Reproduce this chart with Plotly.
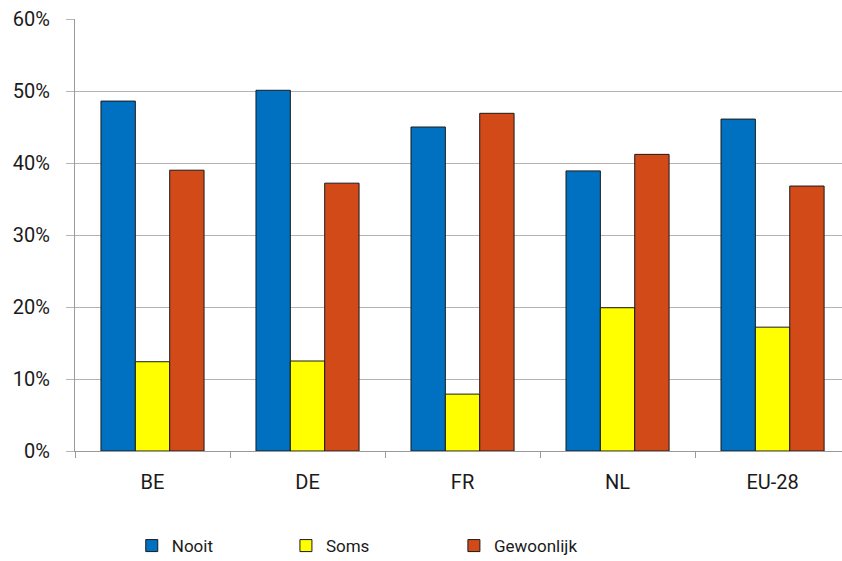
import plotly.graph_objects as go

categories = ["BE", "DE", "FR", "NL", "EU-28"]
nooit = [0.486, 0.501, 0.450, 0.389, 0.461]
soms = [0.124, 0.125, 0.079, 0.199, 0.172]
gewoonlijk = [0.390, 0.372, 0.469, 0.412, 0.368]

series_names = ["Nooit", "Soms", "Gewoonlijk"]
series_colors = ["#0070C0", "#FFFF00", "#D34A19"]
y_ticks = [0, 0.1, 0.2, 0.3, 0.4, 0.5, 0.6]
y_tick_labels = ["0%", "10%", "20%", "30%", "40%", "50%", "60%"]

fig = go.Figure()
legends = ["legend", "legend2", "legend3"]
for name, vals, col, lg in zip(series_names, [nooit, soms, gewoonlijk], series_colors, legends):
    fig.add_trace(go.Bar(
        x=categories, y=vals, name=name,
        marker=dict(color=col, line=dict(color="#1a1a1a", width=1)),
        legend=lg, showlegend=True,
    ))

legend_font = dict(family="Roboto", size=17, color="#1a1a1a")
common_legend = dict(orientation="h", yanchor="middle", xanchor="left", y=-0.22,
                     font=legend_font, bgcolor="rgba(0,0,0,0)", borderwidth=0,
                     visible=True)

fig.update_layout(
    width=842, height=561, autosize=False, showlegend=True,
    margin=dict(l=75, r=0, t=19, b=110, autoexpand=False),
    paper_bgcolor="white", plot_bgcolor="white",
    font=dict(family="Roboto", size=20, color="#1a1a1a"),
    barmode="group", bargap=0.335, bargroupgap=0,
    legend=dict(x=0.074, **common_legend),
    legend2=dict(x=0.275, **common_legend),
    legend3=dict(x=0.494, **common_legend),
    xaxis=dict(
        type="category", range=[-0.5, 4.448], automargin=False,
        showline=True, linecolor="#9a9a9a", linewidth=1,
        ticks="outside", tickson="boundaries", ticklen=6, tickcolor="#9a9a9a",
        showgrid=False, ticklabelstandoff=13,
        tickfont=dict(family="Roboto", size=20, color="#1a1a1a"),
    ),
    yaxis=dict(
        range=[0, 0.6], tickvals=y_ticks, ticktext=y_tick_labels, automargin=False,
        showgrid=True, gridcolor="#b4b4b4", gridwidth=1,
        showline=True, linecolor="#9a9a9a", linewidth=1,
        ticks="outside", ticklen=8, tickcolor="#b4b4b4",
        ticklabelstandoff=12, zeroline=False,
        tickfont=dict(family="Roboto", size=20, color="#1a1a1a"),
    ),
)

fig.write_html("out.html", config={"responsive": False, "displayModeBar": False},
               post_script="document.body.style.margin='0';")
